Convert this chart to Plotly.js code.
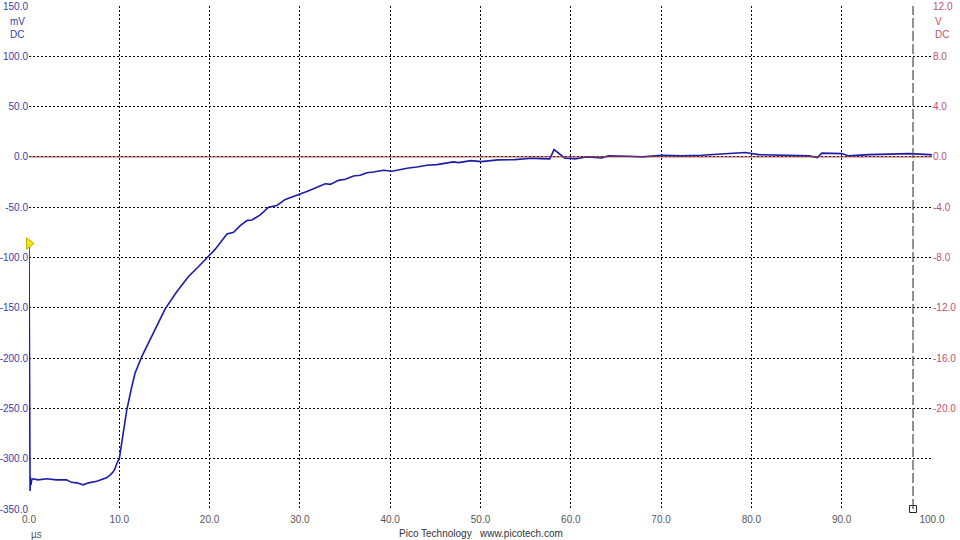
<!DOCTYPE html>
<html>
<head>
<meta charset="utf-8">
<script src="https://cdn.plot.ly/plotly-3.0.1.min.js"></script>
<style>
html,body{margin:0;padding:0;background:#fff;}
#chart{width:960px;height:540px;}
</style>
</head>
<body>
<div id="chart"></div>
<script>
// Channel A (mV) readings over time (µs)
var timeUs = [0, 0.02, 0.05, 0.08, 0.12, 0.16, 0.22, 0.3, 0.45, 1.0, 2.0, 3.0, 4.15, 4.7, 5.3, 6.0, 6.6, 7.5, 7.9, 8.6, 9.0, 9.33, 9.52, 9.71, 10.0, 10.45, 10.82, 11.38, 11.74, 12.49, 13.22, 14.15, 15.08, 16.38, 17.67, 18.78, 20.0, 20.63, 21.92, 22.66, 23.39, 24.13, 24.69, 25.61, 26.53, 27.45, 28.38, 29.11, 30.0, 30.77, 31.7, 32.8, 33.36, 34.28, 35.02, 35.94, 36.68, 37.42, 38.15, 39.26, 40.18, 41.1, 42.03, 42.95, 44.06, 45.17, 46.27, 47.01, 47.56, 48.97, 50.08, 51.93, 53.78, 55.63, 56.7, 57.67, 58.15, 58.6, 59.0, 59.34, 60.08, 60.45, 61.56, 61.93, 63.4, 64.16, 66.4, 67.9, 70.08, 72.3, 74.5, 77.5, 79.3, 80.8, 83.4, 86.4, 87.3, 87.8, 90.0, 90.8, 93.0, 95.3, 97.5, 99.7, 100];
var channelA_mV = [-88, -165, -235, -295, -332, -318, -326, -321, -320, -321, -320, -321, -321, -323.5, -324, -326, -324, -322.5, -321.5, -319, -316, -313, -310, -305, -300, -275, -252, -228.5, -215, -198.6, -185, -168.7, -151, -133.8, -118.8, -108.9, -98, -91.7, -76.7, -75, -68.3, -63.3, -62.7, -57.7, -50, -48.3, -42.3, -40, -36.7, -34.3, -31, -26.7, -27.3, -23.3, -22.3, -19, -18.3, -15.7, -15, -13.3, -14.3, -12.3, -11, -10, -8.3, -7.7, -5.7, -5, -5.7, -3.7, -4.7, -3, -2.7, -1.3, -1.7, -2, 7.3, 4, 1, -1.3, -1.5, -2, -0.3, 0, -1, 1, 0.7, 0, 1.7, 1, 1.7, 3.3, 4.3, 2.3, 1.7, 1, -0.7, 3.7, 3.3, 1, 2.3, 3, 3.3, 2.3, 2];

// Channel B (V)
var timeB = [0, 100];
var channelB_V = [0, 0];

// Trigger marker and ruler cursor
var triggerTime = [0];
var triggerLevel = [-86];
var cursorTime = 97.9;

// Axis ticks
var xTickVals = [0, 10, 20, 30, 40, 50, 60, 70, 80, 90, 100];
var xTickText = ["0.0", "10.0", "20.0", "30.0", "40.0", "50.0", "60.0", "70.0", "80.0", "90.0", "100.0"];
var yTickVals = [150, 100, 50, 0, -50, -100, -150, -200, -250, -300, -350];
var yTickText = ["150.0", "100.0", "50.0", "0.0", "-50.0", "-100.0", "-150.0", "-200.0", "-250.0", "-300.0", "-350.0"];
var y2TickVals = [12, 8, 4, 0, -4, -8, -12, -16, -20];
var y2TickText = ["12.0", "8.0", "4.0", "0.0", "-4.0", "-8.0", "-12.0", "-16.0", "-20.0"];

var FONT = "Liberation Sans, Arial, sans-serif";
var BLUE_TXT = "#3c3ca0";
var RED_TXT = "#c05070";

var traces = [
  {x: timeB, y: channelB_V, yaxis: "y2", mode: "lines", line: {color: "#a03c3c", width: 1}, hoverinfo: "skip"},
  {x: timeUs, y: channelA_mV, mode: "lines", line: {color: "#1c1cac", width: 1.6}, hoverinfo: "skip"},
  {x: triggerTime, y: triggerLevel, mode: "markers", cliponaxis: false,
   marker: {symbol: "triangle-right", size: 10, color: "#f2e41c", line: {color: "#c8b000", width: 1}}},
  {x: [cursorTime], y: [-350], mode: "markers", cliponaxis: false,
   marker: {symbol: "square-open", size: 7, color: "#222", line: {width: 1}}}
];

var gridStyle = {showgrid: true, gridcolor: "#000", gridwidth: 1, griddash: "2px,2px", zeroline: false, showline: false, ticks: ""};

var layout = {
  width: 960, height: 540,
  margin: {l: 29, r: 28, t: 6, b: 31},
  paper_bgcolor: "#fff", plot_bgcolor: "#fff",
  showlegend: false,
  font: {family: FONT, size: 10},
  xaxis: Object.assign({}, gridStyle, {
    range: [0, 100], tickvals: xTickVals, ticktext: xTickText,
    ticklabelstandoff: 3,
    tickfont: {family: FONT, size: 10, color: "#555"}
  }),
  yaxis: Object.assign({}, gridStyle, {
    range: [-350, 150], tickvals: yTickVals, ticktext: yTickText,
    tickfont: {family: FONT, size: 10, color: BLUE_TXT}
  }),
  yaxis2: {
    overlaying: "y", side: "right", range: [-28, 12],
    tickvals: y2TickVals, ticktext: y2TickText,
    showgrid: false, zeroline: false, showline: false, ticks: "",
    tickfont: {family: FONT, size: 10, color: RED_TXT}
  },
  shapes: [
    {type: "line", xref: "x", yref: "paper", x0: cursorTime, x1: cursorTime, y0: 0, y1: 1,
     line: {color: "#555", width: 1.3, dash: "10px,3px"}}
  ],
  annotations: [
    {text: "mV", xref: "paper", yref: "paper", x: -0.013, y: 0.969, xanchor: "center", yanchor: "middle", showarrow: false, font: {family: FONT, size: 10, color: BLUE_TXT}},
    {text: "DC", xref: "paper", yref: "paper", x: -0.013, y: 0.943, xanchor: "center", yanchor: "middle", showarrow: false, font: {family: FONT, size: 10, color: BLUE_TXT}},
    {text: "V", xref: "paper", yref: "paper", x: 1.001, y: 0.969, xanchor: "left", yanchor: "middle", showarrow: false, font: {family: FONT, size: 10, color: RED_TXT}},
    {text: "DC", xref: "paper", yref: "paper", x: 1.001, y: 0.943, xanchor: "left", yanchor: "middle", showarrow: false, font: {family: FONT, size: 10, color: RED_TXT}},
    {text: "µs", xref: "paper", yref: "paper", x: 0.0, y: -0.05, xanchor: "left", yanchor: "middle", showarrow: false, font: {family: FONT, size: 10, color: "#555"}},
    {text: "Pico Technology&nbsp;&nbsp;&nbsp;www.picotech.com", xref: "paper", yref: "paper", x: 0.5, y: -0.048, xanchor: "center", yanchor: "middle", showarrow: false, font: {family: FONT, size: 10, color: "#333"}}
  ]
};

Plotly.newPlot("chart", traces, layout, {staticPlot: true, displayModeBar: false});
</script>
</body>
</html>
